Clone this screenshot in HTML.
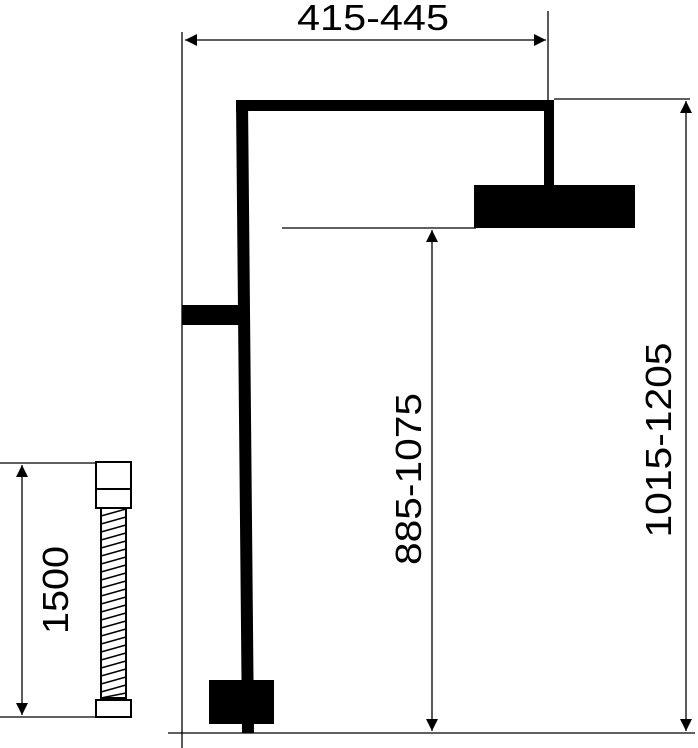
<!DOCTYPE html>
<html><head><style>html,body{margin:0;padding:0;background:#fff;}svg{display:block}</style></head><body>
<svg width="698" height="748" viewBox="0 0 698 748" xmlns="http://www.w3.org/2000/svg" font-family="Liberation Sans, sans-serif">
<defs>
<marker id="a" viewBox="0 0 10 10" refX="10" refY="5" markerWidth="16" markerHeight="12" markerUnits="userSpaceOnUse" orient="auto-start-reverse"><path d="M0,0L10,5L0,10z" fill="#000"/></marker>
</defs>
<g stroke="#000" stroke-width="1.3" fill="none">
<line x1="182" y1="32" x2="182" y2="748"/>
<line x1="168" y1="733" x2="695" y2="733"/>
<line x1="548" y1="11" x2="548" y2="100"/>
<line x1="554" y1="99" x2="690" y2="99"/>
<line x1="282" y1="228" x2="476" y2="228"/>
<line x1="185" y1="40" x2="546" y2="40" marker-start="url(#a)" marker-end="url(#a)"/>
<line x1="686" y1="101" x2="686" y2="731" marker-start="url(#a)" marker-end="url(#a)"/>
<line x1="432" y1="230" x2="432" y2="731" marker-start="url(#a)" marker-end="url(#a)"/>
<line x1="0" y1="463" x2="96" y2="463"/>
<line x1="0" y1="717" x2="96" y2="717"/>
<line x1="22" y1="465" x2="22" y2="715" marker-start="url(#a)" marker-end="url(#a)"/>
</g>
<g fill="#000">
<rect x="236" y="100" width="318" height="11"/>
<polygon points="236,100 248,100 254,733 242,733"/>
<rect x="544" y="100" width="10" height="88"/>
<rect x="474" y="185" width="161" height="43"/>
<rect x="182" y="305" width="57" height="20"/>
<rect x="209" y="680" width="65" height="44"/>
</g>
<g stroke="#000" stroke-width="2" fill="#fff">
<rect x="96" y="462" width="35" height="46"/>
<line x1="96" y1="489" x2="131" y2="489"/>
<rect x="101" y="508" width="25" height="190"/>
<rect x="96" y="700" width="35" height="17"/>
</g>
<g stroke="#000" stroke-width="1.6">
<path d="M101,516 L126,509 M101,524 L126,517 M101,532 L126,525 M101,540 L126,533 M101,548 L126,541 M101,556 L126,549 M101,564 L126,557 M101,572 L126,565 M101,580 L126,573 M101,588 L126,581 M101,596 L126,589 M101,604 L126,597 M101,612 L126,605 M101,620 L126,613 M101,628 L126,621 M101,636 L126,629 M101,644 L126,637 M101,652 L126,645 M101,660 L126,653 M101,668 L126,661 M101,676 L126,669 M101,684 L126,677 M101,692 L126,685 M101,698 L126,693"/>
</g>
<g fill="#000" font-size="36">
<text x="373" y="30" text-anchor="middle" textLength="152" lengthAdjust="spacingAndGlyphs">415-445</text>
<text transform="translate(421,479) rotate(-90)" text-anchor="middle" textLength="172" lengthAdjust="spacingAndGlyphs">885-1075</text>
<text transform="translate(671,440) rotate(-90)" text-anchor="middle" textLength="195" lengthAdjust="spacingAndGlyphs">1015-1205</text>
<text transform="translate(68,590) rotate(-90)" text-anchor="middle" textLength="88" lengthAdjust="spacingAndGlyphs">1500</text>
</g>
</svg>
</body></html>
